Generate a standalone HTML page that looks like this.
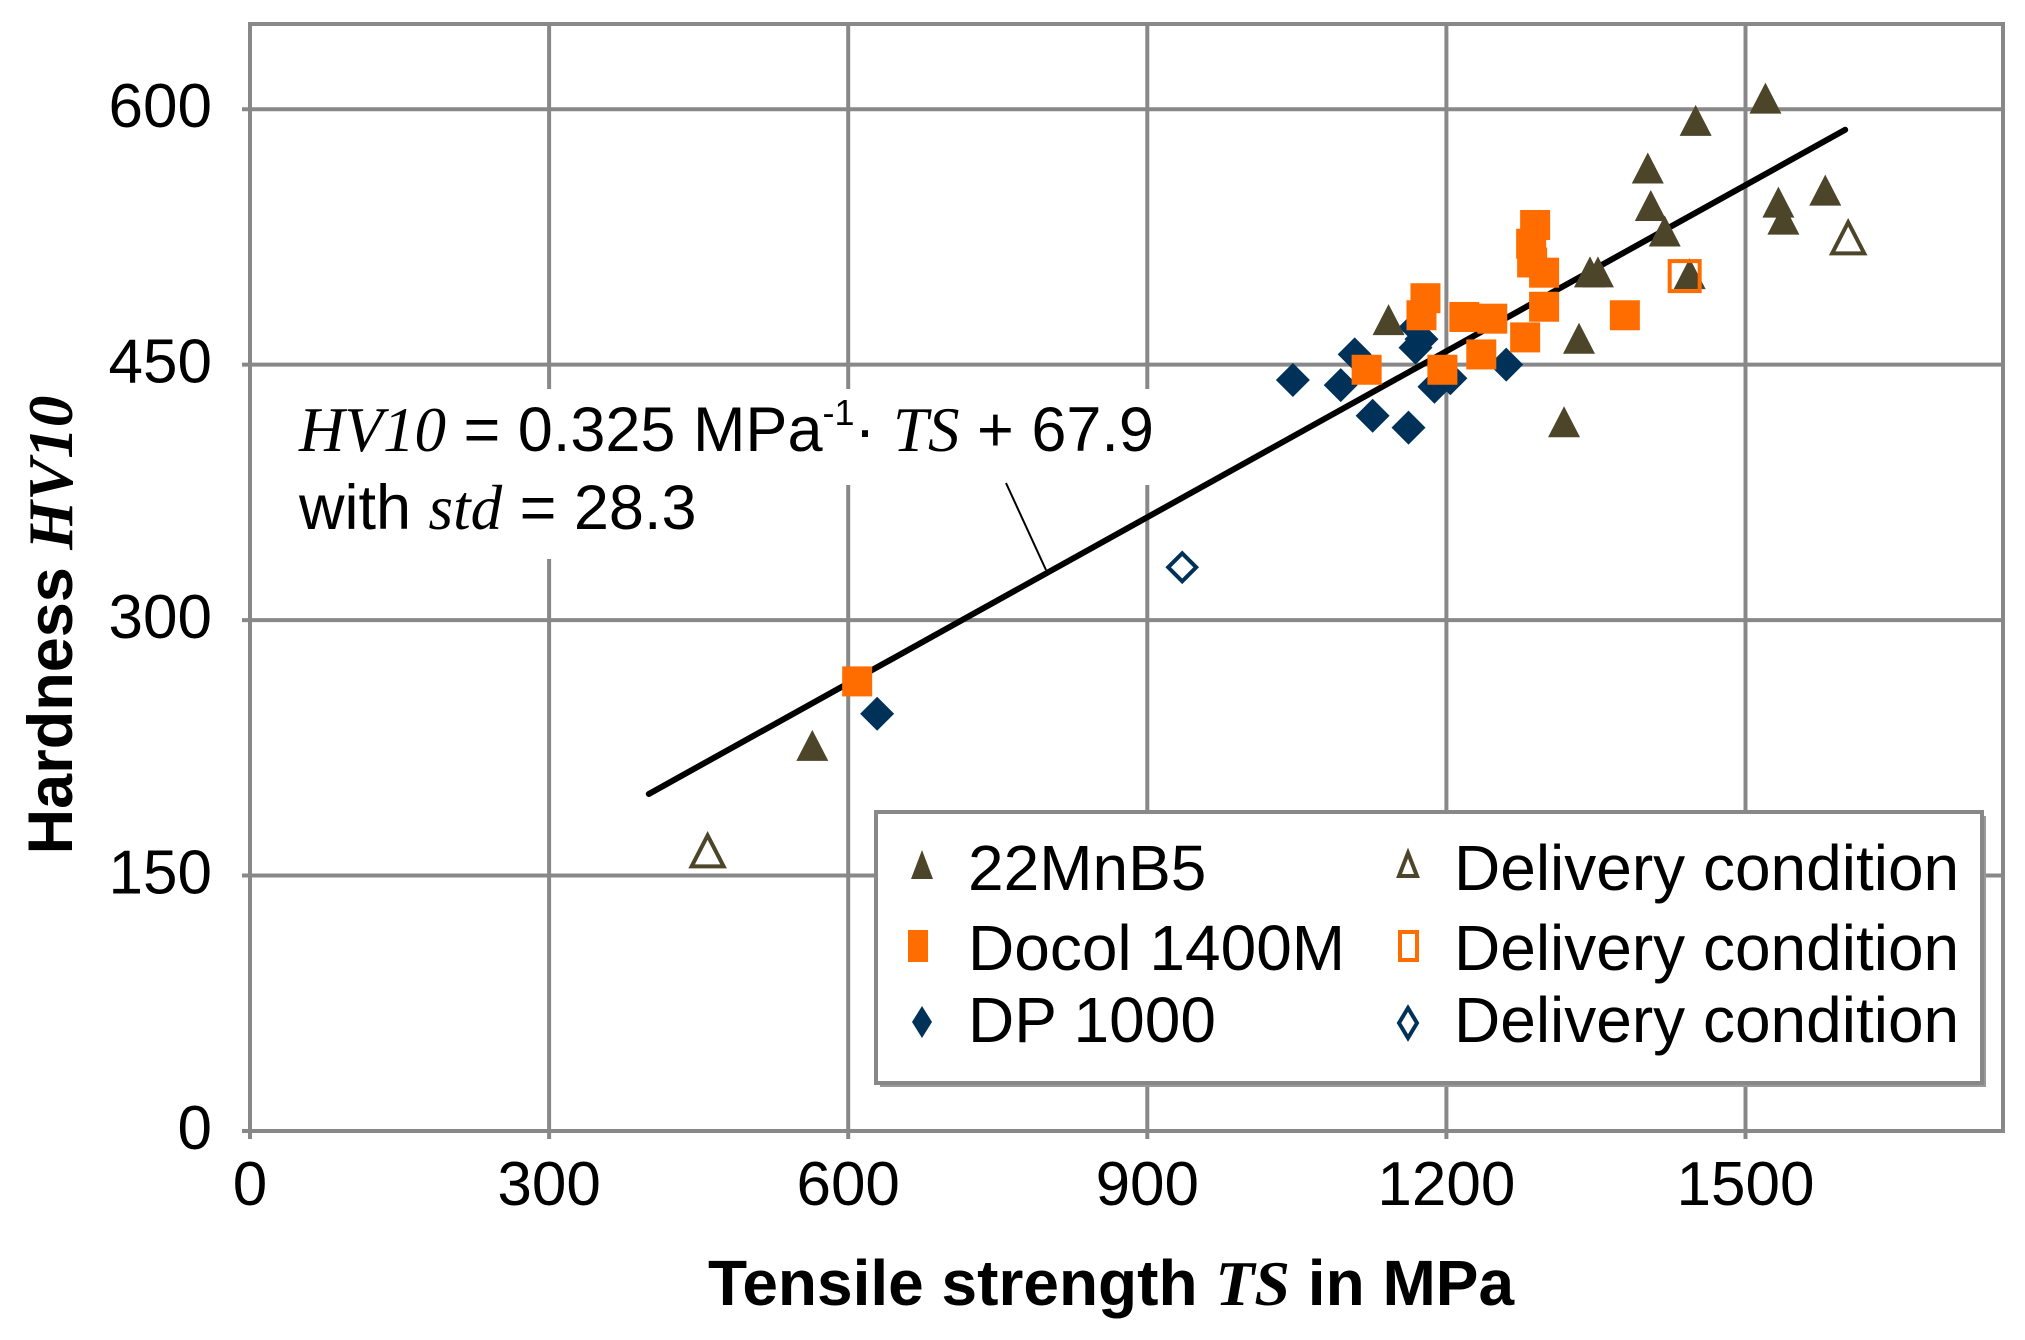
<!DOCTYPE html>
<html><head><meta charset="utf-8"><style>
html,body{margin:0;padding:0;background:#fff;}
svg{display:block;}
text{font-family:"Liberation Sans",Arial,sans-serif;}
.it{font-family:"Liberation Serif","DejaVu Serif",serif;font-style:italic;}
</style></head><body>
<svg id="chart" width="2025" height="1340" viewBox="0 0 2025 1340" xmlns="http://www.w3.org/2000/svg">
<g id="grid"></g>
<g id="ticks"></g>
<rect x="292" y="389" width="868" height="96" fill="#fff"/>
<rect x="292" y="389" width="510" height="170" fill="#fff"/>
<g id="fit"></g>
<line x1="1006" y1="483" x2="1046" y2="570" stroke="#000" stroke-width="2"/>
<text x="299" y="451" font-size="63" fill="#000"><tspan class="it">HV10</tspan> = 0.325 MPa<tspan font-size="36" dy="-26">-1</tspan><tspan dy="26">· </tspan><tspan class="it">TS</tspan> + 67.9</text>
<text x="299" y="529" font-size="63" fill="#000">with <tspan class="it">std</tspan> = 28.3</text>
<g id="marks"></g>
<text x="1111" y="1305" font-size="64" font-weight="bold" text-anchor="middle" fill="#000">Tensile strength <tspan class="it">TS</tspan> in MPa</text>
<text transform="translate(72,625) rotate(-90)" font-size="63" font-weight="bold" text-anchor="middle" fill="#000">Hardness <tspan class="it">HV10</tspan></text>
<g>
<rect x="880" y="816" width="1106" height="271" fill="#999"/>
<rect x="876" y="812" width="1106" height="271" fill="#fff" stroke="#888" stroke-width="4"/>
<polygon points="922,850 911,879 933,879" fill="#4d4529"/>
<text x="968" y="890" font-size="64">22MnB5</text>
<rect x="908" y="930" width="20" height="32" fill="#ff6d00"/>
<text x="968" y="970" font-size="64">Docol 1400M</text>
<polygon points="922,1006 932,1022 922,1038 912,1022" fill="#003259"/>
<text x="968" y="1042" font-size="64">DP 1000</text>
<polygon points="1408,853 1399,876 1417,876" fill="#fff" stroke="#4d4529" stroke-width="4"/>
<text x="1454" y="890" font-size="64">Delivery condition</text>
<rect x="1400" y="932" width="17" height="28" fill="#fff" stroke="#ff6d00" stroke-width="4"/>
<text x="1454" y="970" font-size="64">Delivery condition</text>
<polygon points="1408,1008 1417,1023 1408,1038 1399,1023" fill="#fff" stroke="#003259" stroke-width="4"/>
<text x="1454" y="1042" font-size="64">Delivery condition</text>
</g>
</svg>
<script>
const xTicks = [0, 300, 600, 900, 1200, 1500];
const yTicks = [0, 150, 300, 450, 600];
const mnb5TS = [564, 1142, 1318, 1333, 1344, 1352, 1402, 1405, 1419, 1444, 1450, 1520, 1533, 1538, 1580];
const mnb5HV = [225, 475, 415, 464, 503, 503, 564, 542, 527, 502, 592, 605, 544, 534, 551];
const mnb5DelTS = [459, 1603];
const mnb5DelHV = [163, 523];
const docolTS = [609, 1120, 1196, 1179, 1175, 1218, 1246, 1235, 1279, 1298, 1289, 1285, 1286, 1298, 1379];
const docolHV = [264, 447, 447, 489, 479, 478, 477, 456, 466, 484, 532, 521, 510, 504, 479];
const docolDelTS = [1439];
const docolDelHV = [502];
const dpTS = [629, 1046, 1094, 1108, 1126, 1162, 1169, 1169, 1175, 1188, 1204, 1260];
const dpHV = [245, 441, 438, 456, 420, 413, 472, 460, 465, 437, 442, 450];
const dpDelTS = [935];
const dpDelHV = [331];
const fitSlope = 0.325, fitIntercept = 67.9, fitRange = [400, 1600];

const NS = 'http://www.w3.org/2000/svg';
const X0 = 250, XR = 2003, YT = 24, Y0 = 1131;
const xs = v => X0 + v * 0.997;
const ys = v => Y0 - v * 1.703;
function mk(tag, parent, attrs) {
  const el = document.createElementNS(NS, tag);
  for (const k in attrs) el.setAttribute(k, attrs[k]);
  parent.appendChild(el);
  return el;
}
const grid = document.getElementById('grid');
const ticks = document.getElementById('ticks');
mk('rect', grid, {x: X0, y: YT, width: XR - X0, height: Y0 - YT, fill: 'none', stroke: '#888', 'stroke-width': 4});
xTicks.forEach(t => {
  const l = mk('line', grid, {x1: xs(t), y1: YT, x2: xs(t), y2: Y0 + 8, stroke: '#888', 'stroke-width': 4});
  
  
  const tx = mk('text', ticks, {x: xs(t), y: 1205, 'font-size': 62, 'text-anchor': 'middle'});
  tx.textContent = t;
  
  
});
yTicks.forEach(t => {
  const l = mk('line', grid, {x1: X0 - 8, y1: ys(t), x2: XR, y2: ys(t), stroke: '#888', 'stroke-width': 4});
  
  
  const tx = mk('text', ticks, {x: 212, y: ys(t) + 18, 'font-size': 62, 'text-anchor': 'end'});
  tx.textContent = t;
  
  
});
const fit = document.getElementById('fit');
const fl = mk('line', fit, {x1: xs(fitRange[0]), y1: ys(fitSlope * fitRange[0] + fitIntercept), x2: xs(fitRange[1]), y2: ys(fitSlope * fitRange[1] + fitIntercept), stroke: '#000', 'stroke-width': 6, 'stroke-linecap': 'round'});



const marks = document.getElementById('marks');
function tri(x, y, fill, hollow) {
  const cx = xs(x), cy = ys(y);
  return mk('polygon', marks, {points: `${cx},${cy-18} ${cx-16},${cy+13} ${cx+16},${cy+13}`,
    fill: hollow ? '#fff' : fill, stroke: fill, 'stroke-width': hollow ? 4 : 0});
}
function sq(x, y, fill, hollow) {
  const cx = xs(x), cy = ys(y);
  return mk('rect', marks, {x: cx - 15, y: cy - 15, width: 30, height: 30,
    fill: hollow ? 'none' : fill, stroke: fill, 'stroke-width': hollow ? 4 : 0});
}
function dia(x, y, fill, hollow) {
  const cx = xs(x), cy = ys(y);
  const r = hollow ? 14 : 17;
  return mk('polygon', marks, {points: `${cx},${cy-r} ${cx+r},${cy} ${cx},${cy+r} ${cx-r},${cy}`,
    fill: hollow ? '#fff' : fill, stroke: fill, 'stroke-width': hollow ? 4 : 0});
}
dpTS.forEach((v, i) => {
  const m = dia(v, dpHV[i], '#003259', false);
  
  
});
docolTS.forEach((v, i) => {
  const m = sq(v, docolHV[i], '#ff6d00', false);
  
  
});
mnb5TS.forEach((v, i) => {
  const m = tri(v, mnb5HV[i], '#4d4529', false);
  
  
});
mnb5DelTS.forEach((v, i) => {
  const m = tri(v, mnb5DelHV[i], '#4d4529', true);
  
  
});
docolDelTS.forEach((v, i) => {
  const m = sq(v, docolDelHV[i], '#ff6d00', true);
  
  
});
dpDelTS.forEach((v, i) => {
  const m = dia(v, dpDelHV[i], '#003259', true);
  
  
});
</script>
</body></html>
